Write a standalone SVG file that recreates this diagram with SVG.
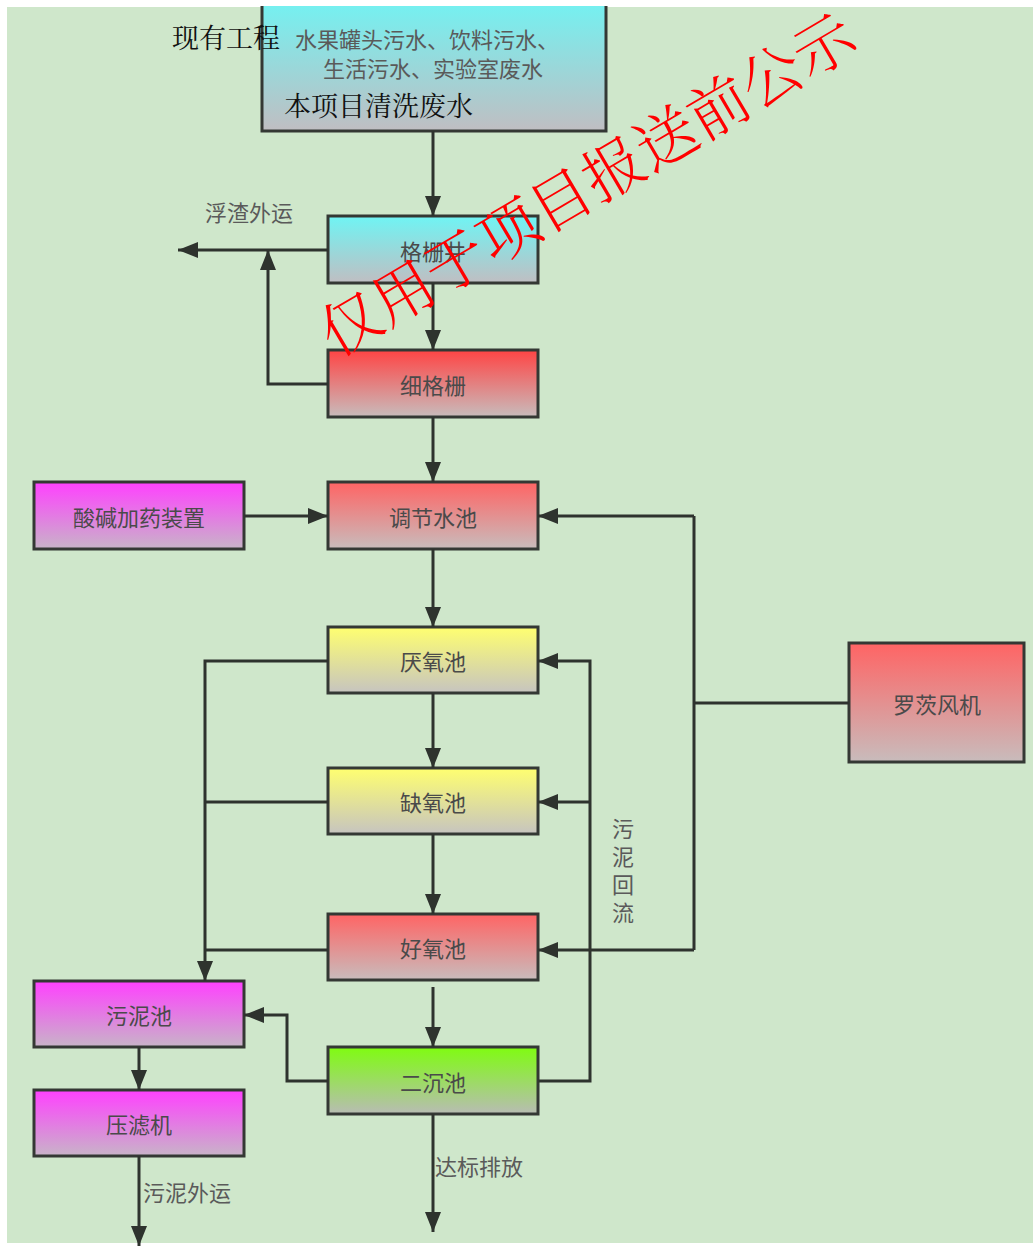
<svg xmlns="http://www.w3.org/2000/svg" width="1033" height="1246" viewBox="0 0 1033 1246">
<defs>
<linearGradient id="gCyan" x1="0" y1="0" x2="0" y2="1"><stop offset="0" stop-color="#6ff4f4"/><stop offset="1" stop-color="#c0bec2"/></linearGradient>
<linearGradient id="gRed" x1="0" y1="0" x2="0" y2="1"><stop offset="0" stop-color="#ff4444"/><stop offset="1" stop-color="#c8bcbc"/></linearGradient>
<linearGradient id="gRed2" x1="0" y1="0" x2="0" y2="1"><stop offset="0" stop-color="#ff6464"/><stop offset="1" stop-color="#c8bcbc"/></linearGradient>
<linearGradient id="gMag" x1="0" y1="0" x2="0" y2="1"><stop offset="0" stop-color="#ff40ff"/><stop offset="1" stop-color="#c8b4c8"/></linearGradient>
<linearGradient id="gYel" x1="0" y1="0" x2="0" y2="1"><stop offset="0" stop-color="#ffff70"/><stop offset="1" stop-color="#c6c4c0"/></linearGradient>
<linearGradient id="gGrn" x1="0" y1="0" x2="0" y2="1"><stop offset="0" stop-color="#7ffc10"/><stop offset="1" stop-color="#b8bcb4"/></linearGradient>
<marker id="ah" viewBox="0 0 20 16" refX="20" refY="8" markerWidth="20" markerHeight="16" markerUnits="userSpaceOnUse" orient="auto"><path d="M0,0 L20,8 L0,16 Z" fill="#2e332e"/></marker>
<style>
.box{stroke:#343834;stroke-width:3}
.lbl{font-family:"Noto Sans CJK SC",sans-serif;font-size:22px;fill:#4a4a4a;text-anchor:middle;dominant-baseline:central}
.note{font-family:"Noto Sans CJK SC",sans-serif;font-size:22px;fill:#5a5a5a}
.serif{font-family:"Liberation Serif","Noto Serif CJK SC","Noto Sans CJK SC",serif;font-size:27px;fill:#111}
.ln{fill:none;stroke:#2e332e;stroke-width:3}
</style>
</defs>
<rect x="0" y="0" width="1033" height="1246" fill="#ffffff"/>
<rect x="7" y="7" width="1026" height="1236" fill="#cfe7cb"/>

<g id="n-source">
<rect class="box" x="262" y="-5" width="344" height="136" fill="url(#gCyan)"/>
<rect x="0" y="0" width="1033" height="6" fill="#ffffff"/>
<text class="note" text-anchor="middle"><tspan x="427" y="48">水果罐头污水、饮料污水、</tspan><tspan x="433" y="77">生活污水、实验室废水</tspan></text>
<text class="serif" x="172" y="48">现有工程</text>
<text class="serif" x="284" y="116">本项目清洗废水</text>
</g>
<g id="n-gsj"><rect class="box" x="328" y="216" width="210" height="67" fill="url(#gCyan)"/><text class="lbl" x="433" y="250">格栅井</text></g>
<g id="n-xgs"><rect class="box" x="328" y="350" width="210" height="67" fill="url(#gRed)"/><text class="lbl" x="433" y="384">细格栅</text></g>
<g id="n-tjsc"><rect class="box" x="328" y="482" width="210" height="67" fill="url(#gRed2)"/><text class="lbl" x="433" y="516">调节水池</text></g>
<g id="n-sjjy"><rect class="box" x="34" y="482" width="210" height="67" fill="url(#gMag)"/><text class="lbl" x="139" y="516">酸碱加药装置</text></g>
<g id="n-yyc"><rect class="box" x="328" y="627" width="210" height="66" fill="url(#gYel)"/><text class="lbl" x="433" y="660">厌氧池</text></g>
<g id="n-qyc"><rect class="box" x="328" y="768" width="210" height="66" fill="url(#gYel)"/><text class="lbl" x="433" y="801">缺氧池</text></g>
<g id="n-hyc"><rect class="box" x="328" y="914" width="210" height="66" fill="url(#gRed2)"/><text class="lbl" x="433" y="947">好氧池</text></g>
<g id="n-ecc"><rect class="box" x="328" y="1047" width="210" height="67" fill="url(#gGrn)"/><text class="lbl" x="433" y="1081">二沉池</text></g>
<g id="n-wnc"><rect class="box" x="34" y="981" width="210" height="66" fill="url(#gMag)"/><text class="lbl" x="139" y="1014">污泥池</text></g>
<g id="n-ylj"><rect class="box" x="34" y="1090" width="210" height="66" fill="url(#gMag)"/><text class="lbl" x="139" y="1123">压滤机</text></g>
<g id="n-lcfj"><rect class="box" x="849" y="643" width="175" height="119" fill="url(#gRed2)"/><text class="lbl" x="937" y="703">罗茨风机</text></g>

<g id="connectors">
<path class="ln" d="M433,131 V216" marker-end="url(#ah)"/>
<path class="ln" d="M328,250 H178" marker-end="url(#ah)"/>
<path class="ln" d="M328,384 H268 V250" marker-end="url(#ah)"/>
<path class="ln" d="M433,283 V350" marker-end="url(#ah)"/>
<path class="ln" d="M433,417 V482" marker-end="url(#ah)"/>
<path class="ln" d="M244,516 H328" marker-end="url(#ah)"/>
<path class="ln" d="M433,549 V627" marker-end="url(#ah)"/>
<path class="ln" d="M433,693 V768" marker-end="url(#ah)"/>
<path class="ln" d="M433,834 V914" marker-end="url(#ah)"/>
<path class="ln" d="M433,987 V1047" marker-end="url(#ah)"/>
<path class="ln" d="M328,661 H205 V981" marker-end="url(#ah)"/>
<path class="ln" d="M328,802 H205"/>
<path class="ln" d="M328,950 H205"/>
<path class="ln" d="M328,1081 H287 V1015 H244" marker-end="url(#ah)"/>
<path class="ln" d="M538,1081 H590 V661 H538" marker-end="url(#ah)"/>
<path class="ln" d="M590,802 H538" marker-end="url(#ah)"/>
<path class="ln" d="M849,703 H694"/>
<path class="ln" d="M694,516 V950"/>
<path class="ln" d="M694,516 H538" marker-end="url(#ah)"/>
<path class="ln" d="M694,950 H538" marker-end="url(#ah)"/>
<path class="ln" d="M139,1047 V1090" marker-end="url(#ah)"/>
<path class="ln" d="M139,1156 V1246" marker-end="url(#ah)"/>
<path class="ln" d="M433,1114 V1232" marker-end="url(#ah)"/>
</g>

<text class="note" x="205" y="221">浮渣外运</text>
<text class="note" x="143" y="1201">污泥外运</text>
<text class="note" x="435" y="1175">达标排放</text>
<text class="note" x="623" y="818" style="writing-mode:vertical-rl;letter-spacing:6px">污泥回流</text>

<text x="0" y="0" transform="translate(588,186) rotate(-30.5)" font-family="Liberation Serif,'Noto Serif CJK SC','Noto Sans CJK SC',serif" font-size="61" fill="#ff0000" text-anchor="middle" dominant-baseline="central" font-weight="300">仅用于项目报送前公示</text>
</svg>
